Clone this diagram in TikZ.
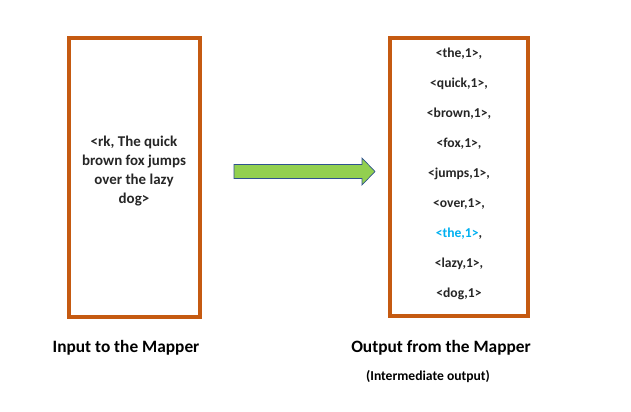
\documentclass[tikz,border=0pt]{standalone}
\usepackage{fontspec}
\setmainfont{Carlito}
\definecolor{boxorange}{HTML}{C55A11}
\definecolor{arrowgreen}{HTML}{92D050}
\definecolor{arrowblue}{HTML}{2F528F}
\definecolor{hiblue}{HTML}{00B0F0}
\definecolor{txt}{HTML}{262626}
\tikzset{
  framebox/.style={draw=boxorange, line width=2.4pt},
  itemtext/.style={font=\bfseries\fontsize{10.2}{12}\selectfont, text=txt, inner sep=0pt, anchor=center},
  captext/.style={font=\bfseries\fontsize{13}{15}\selectfont, text=black, inner sep=0pt},
  subtext/.style={font=\bfseries\fontsize{10.2}{12}\selectfont, text=black, inner sep=0pt},
}
\begin{document}
\begin{tikzpicture}[x=0.75pt,y=-0.75pt]
\useasboundingbox (0,0) rectangle (631,411);
% boxes
\draw[framebox] (69,38) rectangle (200,317);
\draw[framebox] (390,38) rectangle (528,316);
% input text
\node[itemtext, font=\bfseries\fontsize{11.2}{14.25}\selectfont, align=center] (intext) at (134,171.5)
  {<rk, The quick\\brown fox jumps\\over the lazy\\dog>};
% output items
\node[itemtext] (o1) at (459,54) {<the,1>,};
\node[itemtext] (o2) at (459,84) {<quick,1>,};
\node[itemtext] (o3) at (459,114) {<brown,1>,};
\node[itemtext] (o4) at (459,144) {<fox,1>,};
\node[itemtext] (o5) at (459,174) {<jumps,1>,};
\node[itemtext] (o6) at (459,204) {<over,1>,};
\node[itemtext] (o7) at (459,234) {\textcolor{hiblue}{<the,1>},};
\node[itemtext] (o8) at (459,264) {<lazy,1>,};
\node[itemtext] (o9) at (459,294) {<dog,1>};
% arrow
\coordinate (a1) at (234,164.5);
\coordinate (a2) at (362,164.5);
\coordinate (a3) at (362,158);
\coordinate (tip) at (375,171.5);
\coordinate (a5) at (362,185);
\coordinate (a6) at (362,178.5);
\coordinate (a7) at (234,178.5);
\draw[fill=arrowgreen, draw=arrowblue, line width=0.5pt, line join=miter]
  (a1) -- (a2) -- (a3) -- (tip) -- (a5) -- (a6) -- (a7) -- cycle;
% captions
\node[captext] (cin) at (126,348) {Input to the Mapper};
\node[captext] (cout) at (441,348) {Output from the Mapper};
\node[subtext] (csub) at (428,377) {(Intermediate output)};
\end{tikzpicture}
\end{document}
